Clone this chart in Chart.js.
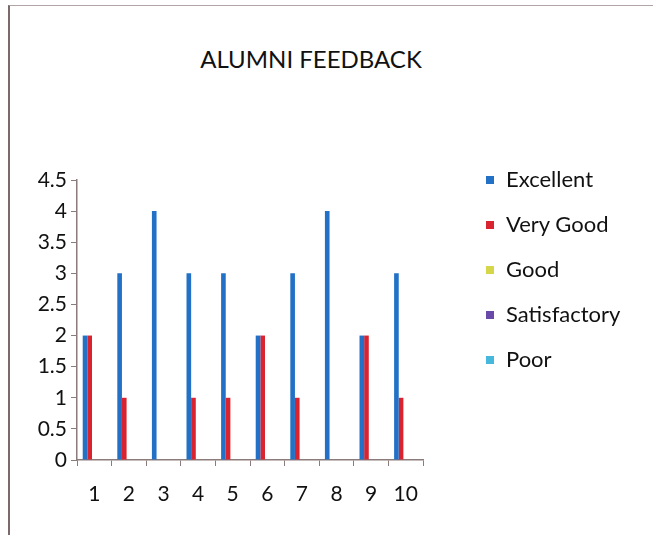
<!DOCTYPE html>
<html>
<head>
<meta charset="utf-8">
<script src="https://cdn.jsdelivr.net/npm/chart.js@4/dist/chart.umd.min.js"></script>
<style>
  body { margin: 0; background: #fff; }
  #wrap { position: relative; width: 653px; height: 535px; overflow: hidden; background: #fff; }
  #frame { position: absolute; left: 8px; top: 5px; width: 700px; height: 600px;
           border-left: 2px solid #7a6a6a; border-top: 1px solid #b0a4a4; }
  #title { position: absolute; left: 0; width: 622px; top: 44px; text-align: center;
           font: 24px Lato, sans-serif; color: #111; }
  #legend { position: absolute; left: 486px; top: 166px; font: 22px Lato, sans-serif; color: #111; }
  #legend div { height: 45px; line-height: 26px; white-space: nowrap; }
  #legend span { display: inline-block; width: 8px; height: 8px; margin-right: 12px; vertical-align: 3px; }
  canvas { position: absolute; left: 0; top: 0; }
</style>
</head>
<body>
<div id="wrap">
  <div id="frame"></div>
  <div id="title">ALUMNI FEEDBACK</div>
  <canvas id="chart" width="653" height="535"></canvas>
  <div id="legend"></div>
</div>
<script>
// Categories (respondent / batch no.)
const categories = ['1', '2', '3', '4', '5', '6', '7', '8', '9', '10'];

// Series values
const excellent    = [2, 3, 4, 3, 3, 2, 3, 4, 2, 3];
const veryGood     = [2, 1, 0, 1, 1, 2, 1, 0, 2, 1];
const good         = [0, 0, 0, 0, 0, 0, 0, 0, 0, 0];
const satisfactory = [0, 0, 0, 0, 0, 0, 0, 0, 0, 0];
const poor         = [0, 0, 0, 0, 0, 0, 0, 0, 0, 0];

const seriesNames  = ['Excellent', 'Very Good', 'Good', 'Satisfactory', 'Poor'];
const seriesColors = ['#2271c6', '#d9232e', '#d6d64a', '#6a4aa8', '#45b8dc'];
const seriesData   = [excellent, veryGood, good, satisfactory, poor];

const axisColor = '#8b7b7b';
const tickFont = { family: 'Lato', size: 21 };

const chart = new Chart(document.getElementById('chart'), {
  type: 'bar',
  data: {
    labels: categories,
    datasets: seriesData.map((data, i) => ({
      label: seriesNames[i],
      data: data,
      backgroundColor: seriesColors[i],
      borderWidth: 0,
      categoryPercentage: 0.67,
      barPercentage: 1.0
    }))
  },
  options: {
    responsive: false,
    animation: false,
    layout: {
      padding: { left: 0, right: 230, top: 180, bottom: 0 }
    },
    scales: {
      x: {
        grid: {
          display: true,
          offset: true,
          drawOnChartArea: false,
          drawTicks: true,
          tickLength: 6,
          color: axisColor
        },
        border: { color: axisColor, width: 1.5 },
        ticks: { color: '#111', font: tickFont, padding: 16, maxRotation: 0 },
        afterFit(scale) { scale.height = 75; }
      },
      y: {
        min: 0,
        max: 4.5,
        grid: {
          drawOnChartArea: false,
          drawTicks: true,
          tickLength: 6,
          color: axisColor
        },
        border: { color: axisColor, width: 1.5 },
        ticks: {
          stepSize: 0.5,
          color: '#111',
          font: tickFont,
          padding: 4,
          callback: (value) => String(value) // 4 not 4.0, like the original
        },
        afterFit(scale) { scale.width = 77; }
      }
    },
    plugins: {
      legend: { display: false },
      title: { display: false },
      tooltip: { enabled: false }
    }
  }
});

// Custom legend on the right
const legendEl = document.getElementById('legend');
seriesNames.forEach((name, i) => {
  const row = document.createElement('div');
  const box = document.createElement('span');
  box.style.background = seriesColors[i];
  row.appendChild(box);
  row.appendChild(document.createTextNode(name));
  legendEl.appendChild(row);
});
</script>
</body>
</html>
